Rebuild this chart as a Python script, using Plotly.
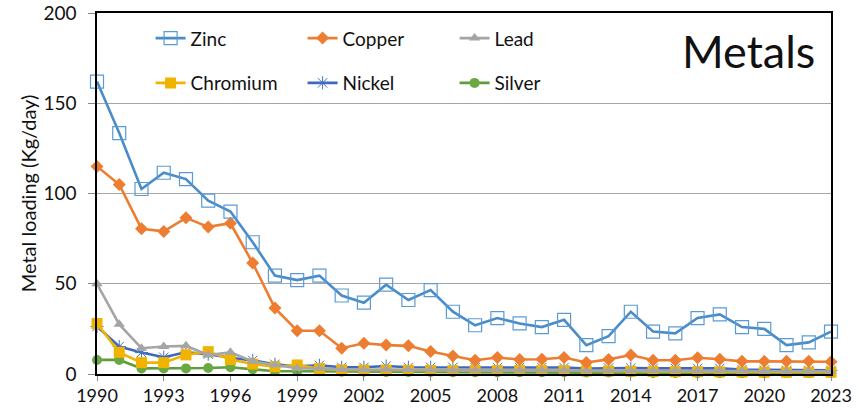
import plotly.graph_objects as go

years = list(range(1990, 2024))

zinc = [162, 133.5, 102.5, 111.5, 108, 96, 90, 73, 54.5, 52, 54.5, 43.5, 39.5, 49.5, 41, 46.5,
        34.5, 27, 31, 28, 26, 30, 16, 21, 34.5, 23.5, 22.5, 31, 33, 26, 25, 16, 17.5, 23.5]
copper = [115, 105, 80.5, 79, 86.5, 81.5, 83.5, 61.5, 36.5, 24, 24, 14.3, 17, 16, 15.6, 12.5,
          10, 7.6, 9.1, 8, 8.2, 9.1, 6.4, 8.1, 10.5, 7.6, 7.6, 9, 8.2, 7, 7, 7, 7, 6.8]
lead = [50, 27.5, 14.3, 15.2, 15.6, 10.5, 12, 7, 5, 3.2, 3, 2.5, 2.3, 2.5, 2.3, 2.2,
        2, 2, 2, 2, 2, 2, 1.8, 1.8, 1.8, 1.8, 1.8, 1.8, 1.8, 1.6, 1.5, 1.5, 1.5, 1.5]
chromium = [28, 12, 6.3, 6.3, 10.6, 12.4, 8, 5.5, 4, 5, 3, 2.3, 2.2, 2.2, 2.1, 2,
            1.9, 1.9, 1.9, 1.9, 1.9, 1.9, 1.7, 1.7, 1.5, 1.4, 1.3, 1.3, 1.2, 1.1, 1, 1, 1, 1]
nickel = [26.3, 15.2, 11.9, 9.3, 12, 11, 9, 7.5, 5.4, 4.2, 4.8, 3.7, 3.7, 4.4, 3.7, 3.7,
          3.7, 3.5, 3.6, 3.6, 3.6, 3.6, 3, 3.3, 3.3, 3.1, 3.1, 3.1, 3.1, 2.4, 2.2, 2, 2, 2]
silver = [7.8, 7.8, 3.1, 3.1, 3.1, 3.3, 3.7, 2.6, 1.5, 1.5, 1.5, 1.2, 1.2, 1.1, 1.1, 1.1,
          1, 1, 1, 1, 1, 1, 0.8, 0.8, 0.8, 0.6, 0.6, 0.5, 0.5, 0.5, 0.5, 0.5, 0.5, 0.5]

x_ticks = [1990, 1993, 1996, 1999, 2002, 2005, 2008, 2011, 2014, 2017, 2020, 2023]
y_ticks = [0, 50, 100, 150, 200]

FONT = "Lato"

series = [
    ("Zinc", zinc, "#4A8CC8",
     dict(symbol="square-open", size=13, color="#5B9BD5", line=dict(width=1.2, color="#5B9BD5")), "legend"),
    ("Copper", copper, "#ED7D31",
     dict(symbol="diamond", size=10, color="#ED7D31"), "legend"),
    ("Lead", lead, "#A5A5A5",
     dict(symbol="triangle-up", size=10, color="#A5A5A5"), "legend"),
    ("Chromium", chromium, "#F0B400",
     dict(symbol="square", size=11, color="#F0B400"), "legend2"),
    ("Nickel", nickel, "#3E68BF",
     dict(symbol="asterisk-open", size=11, color="#4472C4", line=dict(width=1, color="#4472C4")), "legend2"),
    ("Silver", silver, "#5E9E3A",
     dict(symbol="circle", size=10, color="#6AA842"), "legend2"),
]

fig = go.Figure()
for name, vals, lc, mk, lg in series[::-1]:
    fig.add_trace(go.Scatter(
        x=years, y=vals, name=name, mode="lines+markers",
        line=dict(color=lc, width=2.6), marker=mk,
        cliponaxis=False, legend=lg,
    ))

fig.update_layout(
    width=859, height=410,
    margin=dict(l=97, r=28, t=13, b=36, autoexpand=False),
    paper_bgcolor="white", plot_bgcolor="white",
    font=dict(family=FONT, size=18, color="#111111"),
    legend=dict(
        orientation="h", x=0.073, y=0.93, xanchor="left", yanchor="middle",
        entrywidth=107, entrywidthmode="pixels", traceorder="reversed",
        font=dict(family=FONT, size=19, color="#111111"), bgcolor="rgba(0,0,0,0)",
    ),
    legend2=dict(
        orientation="h", x=0.073, y=0.806, xanchor="left", yanchor="middle",
        entrywidth=107, entrywidthmode="pixels", traceorder="reversed",
        font=dict(family=FONT, size=19, color="#111111"), bgcolor="rgba(0,0,0,0)",
    ),
    annotations=[dict(
        text="Metals", x=0.888, y=0.895, xref="paper", yref="paper",
        xanchor="center", yanchor="middle", showarrow=False,
        font=dict(family=FONT, size=45, color="#111111"),
    )],
)

fig.update_xaxes(
    range=[1990, 2023], tickvals=x_ticks, ticktext=[str(t) for t in x_ticks],
    showgrid=False, showline=True, linecolor="black", linewidth=1.5, mirror=True,
    ticks="outside", ticklen=5, tickcolor="#888888", automargin=False,
    tickfont=dict(family=FONT, size=18, color="#111111"), zeroline=False,
)
fig.update_yaxes(
    range=[0, 200], tickvals=y_ticks,
    showgrid=True, gridcolor="#A6A6A6", gridwidth=1,
    showline=True, linecolor="black", linewidth=1.5, mirror=True,
    ticks="outside", ticklen=7, tickcolor="#888888", automargin=False,
    ticklabelstandoff=8,
    tickfont=dict(family=FONT, size=19, color="#111111"), zeroline=False,
    title=dict(text="Metal loading (Kg/day)", font=dict(family=FONT, size=20, color="#111111"),
               standoff=1),
)

fig.write_html("out.html", config={"displayModeBar": False},
               post_script="document.body.style.margin='0';")
